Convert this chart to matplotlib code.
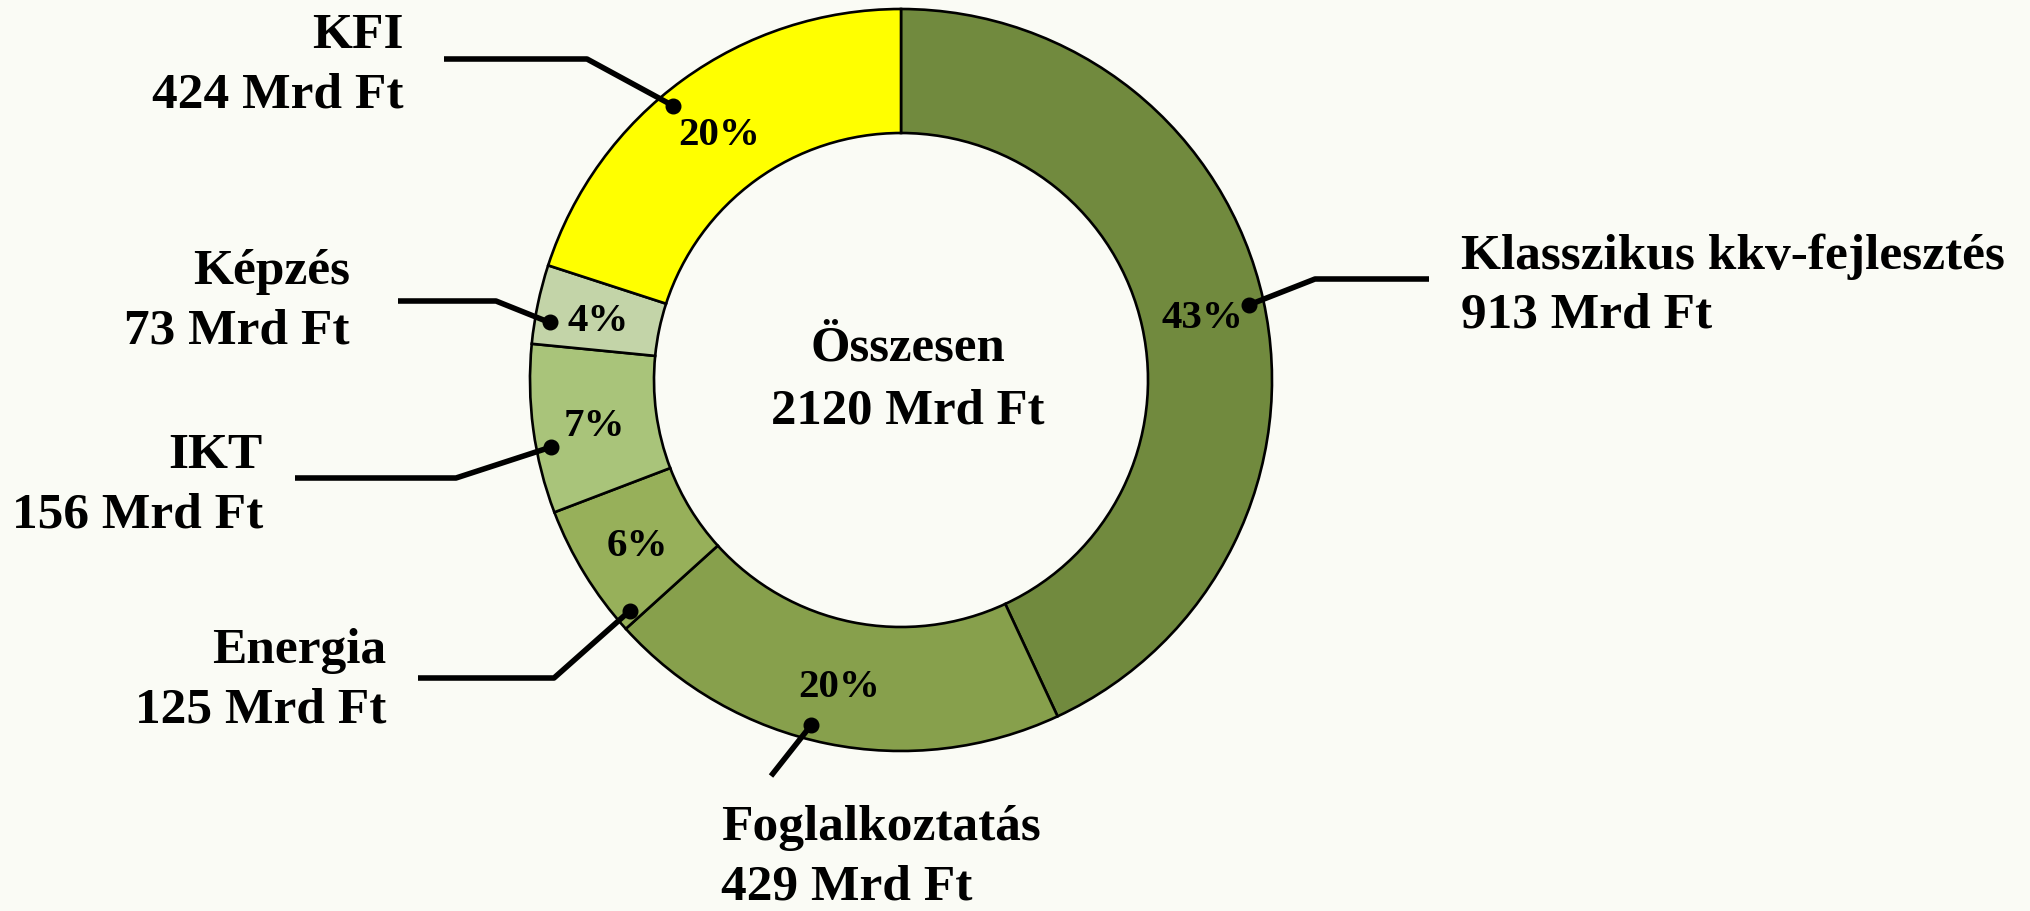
import numpy as np
import matplotlib
matplotlib.use("Agg")
import matplotlib.pyplot as plt

# ---- data ----
categories = ["Klasszikus kkv-fejlesztés", "Foglalkoztatás", "Energia", "IKT", "Képzés", "KFI"]
values = [913, 429, 125, 156, 73, 424]          # Mrd Ft
pct_labels = ["43%", "20%", "6%", "7%", "4%", "20%"]
total_label = "Összesen\n2120 Mrd Ft"
unit = "Mrd Ft"

# ---- style ----
colors = ["#718a3e", "#87a04c", "#97b05a", "#a9c47a", "#c3d4a8", "#ffff00"]
bg = "#fafbf5"
W, H = 2031, 912
cx, cy, R, ring = 901, 912 - 381, 371, 124

plt.rcParams["font.family"] = ["Liberation Serif", "DejaVu Serif"]
plt.rcParams["font.weight"] = "bold"

fig = plt.figure(figsize=(W / 100, H / 100), dpi=100, facecolor=bg)
ax = fig.add_axes([0, 0, 1, 1])
ax.set_facecolor(bg)

wedges, _ = ax.pie(values, colors=colors, startangle=90, counterclock=False,
                   radius=R, center=(cx, cy), frame=True,
                   wedgeprops=dict(width=ring, edgecolor="black", linewidth=1.9))
ax.set_xlim(0, W)
ax.set_ylim(0, H)
ax.set_aspect("equal")
ax.axis("off")

# percentage labels in the middle of the ring
r_mid = R - ring / 2
for w, p in zip(wedges, pct_labels):
    a = np.deg2rad((w.theta1 + w.theta2) / 2)
    ax.text(cx + r_mid * np.cos(a), cy + r_mid * np.sin(a) - 4, p,
            ha="center", va="center", fontsize=29.5, fontweight="bold")

# center text
ax.text(cx + 7, cy + 1, total_label, ha="center", va="center",
        fontsize=36.5, fontweight="bold", linespacing=1.48)

# outer labels with leader lines (layout only)
layout = {
    # text x, text y-center, ha, leader start, elbow, angle offset
    "Klasszikus kkv-fejlesztés": (1461, 912 - 286, "left", (1429, 912 - 280), (1315, 912 - 280), -0.3),
    "Foglalkoztatás": (721, 912 - 858, "left", (771, 912 - 777), (771, 912 - 777), -3.1),
    "Energia": (386, 912 - 681, "right", (418, 912 - 679), (554, 912 - 679), 8.9),
    "IKT": (263, 912 - 486, "right", (295, 912 - 479), (456, 912 - 479), 3.2),
    "Képzés": (350, 912 - 302, "right", (398, 912 - 302), (496, 912 - 302), 2.5),
    "KFI": (404, 912 - 66, "right", (444, 912 - 60), (587, 912 - 60), 3.7),
}
r_dot = 0.96 * R
for w, cat, v in zip(wedges, categories, values):
    tx, ty, ha, start, elbow, off = layout[cat]
    a = np.deg2rad((w.theta1 + w.theta2) / 2 + off)
    dx, dy = cx + r_dot * np.cos(a), cy + r_dot * np.sin(a)
    ax.plot([start[0], elbow[0], dx], [start[1], elbow[1], dy],
            color="black", lw=4, solid_capstyle="butt", zorder=5)
    ax.plot([dx], [dy], "o", color="black", markersize=10.5, zorder=6)
    ax.text(tx, ty, f"{cat}\n{v} {unit}", ha=ha, va="center",
            fontsize=37, fontweight="bold", linespacing=1.38,
            multialignment=ha)

fig.savefig("out.png", dpi=100, facecolor=bg)
